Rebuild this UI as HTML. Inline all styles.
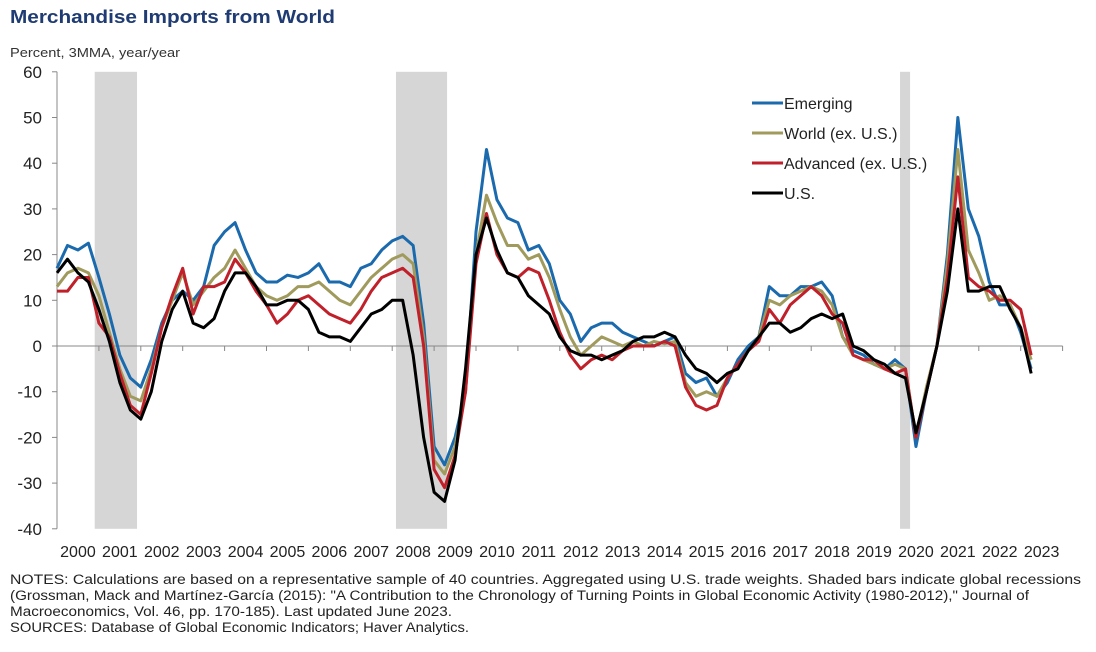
<!DOCTYPE html>
<html><head><meta charset="utf-8"><style>
body{margin:0;background:#fff;font-family:"Liberation Sans",Arial,sans-serif;}
svg text{font-family:"Liberation Sans",Arial,sans-serif;}
</style></head><body>
<svg id="chart" width="1096" height="647" xmlns="http://www.w3.org/2000/svg">
<text x="10" y="23" font-size="18" font-weight="bold" fill="#1f3b73" textLength="325" lengthAdjust="spacingAndGlyphs">Merchandise Imports from World</text>
<text x="10" y="57" font-size="13" fill="#333" textLength="170" lengthAdjust="spacingAndGlyphs">Percent, 3MMA,  year/year</text>
<g id="shade"></g><g id="axes"></g><g id="lines"></g>
<g>
<line x1="752" y1="103" x2="783" y2="103" stroke="#1a6aad" stroke-width="3"/><text x="784" y="109" font-size="16" fill="#222">Emerging</text>
<line x1="752" y1="133" x2="783" y2="133" stroke="#a09a5c" stroke-width="3"/><text x="784" y="139" font-size="16" fill="#222">World (ex. U.S.)</text>
<line x1="752" y1="163" x2="783" y2="163" stroke="#c0202a" stroke-width="3"/><text x="784" y="169" font-size="16" fill="#222">Advanced (ex. U.S.)</text>
<line x1="752" y1="193" x2="783" y2="193" stroke="#000" stroke-width="3"/><text x="784" y="199" font-size="16" fill="#222">U.S.</text>
</g>
<g font-size="13.5" fill="#222">
<text x="10" y="584" textLength="1071" lengthAdjust="spacingAndGlyphs">NOTES: Calculations are based on a representative sample of 40 countries.  Aggregated using U.S. trade weights.  Shaded bars indicate global recessions</text>
<text x="10" y="600" textLength="1019" lengthAdjust="spacingAndGlyphs">(Grossman, Mack and Martínez-García  (2015): "A Contribution to the Chronology of Turning Points in Global Economic Activity (1980-2012)," Journal of</text>
<text x="10" y="616" textLength="442" lengthAdjust="spacingAndGlyphs">Macroeconomics, Vol. 46, pp. 170-185). Last updated June 2023.</text>
<text x="10" y="632" textLength="459" lengthAdjust="spacingAndGlyphs">SOURCES: Database of Global Economic Indicators; Haver Analytics.</text>
</g>
</svg>
<script>
const years=[2000,2001,2002,2003,2004,2005,2006,2007,2008,2009,2010,2011,2012,2013,2014,2015,2016,2017,2018,2019,2020,2021,2022,2023];
const yTicks=[60,50,40,30,20,10,0,-10,-20,-30,-40];
const recessions=[[2000.9,2001.91],[2008.09,2009.31],[2020.12,2020.36]];
const t0=2000,tStep=0.25;
const emerging=[17,22,21,22.5,15,7,-2,-7,-9,-3,5,10,12,10,13,22,25,27,21,16,14,14,15.5,15,16,18,14,14,13,17,18,21,23,24,22,5,-22,-26,-20,-10,25,43,32,28,27,21,22,18,10,7,1,4,5,5,3,2,1,0,1,2,-6,-8,-7,-11,-8,-3,0,2,13,11,11,13,13,14,11,2,-1,-2,-4,-5,-3,-5,-22,-10,0,20,50,30,24,14,9,9,3,-5];
const world=[13,16,17,16,11,3,-5,-11,-12,-5,4,10,16,9,12,15,17,21,17,13,11,10,11,13,13,14,12,10,9,12,15,17,19,20,18,2,-25,-28,-22,-10,20,33,27,22,22,19,20,15,8,2,-2,0,2,1,0,1,0,1,0.5,1,-8,-11,-10,-11,-7,-4,-1,2,10,9,11,12,13,12,9,2,-2,-3,-4,-5,-4,-5,-20,-9,0,18,43,21,16,10,11,9,4,-3];
const advanced=[12,12,15,15,5,2,-6,-13,-15,-6,4,11,17,7,13,13,14,19,16,12,9,5,7,10,11,9,7,6,5,8,12,15,16,17,15,0,-27,-31,-24,-10,18,29,20,16,15,17,16,10,3,-2,-5,-3,-2,-3,-1,0,0,0,1,0,-9,-13,-14,-13,-7,-4,-1,1,8,5,9,11,13,11,7,5,-2,-3,-3,-5,-6,-5,-20,-10,0,15,37,15,13,12,10,10,8,-2];
const us=[16,19,16,14,8,1,-8,-14,-16,-10,1,8,12,5,4,6,12,16,16,13,9,9,10,10,8,3,2,2,1,4,7,8,10,10,-2,-20,-32,-34,-25,-5,20,28,21,16,15,11,9,7,2,-1,-2,-2,-3,-2,-1,1,2,2,3,2,-2,-5,-6,-8,-6,-5,-1,2,5,5,3,4,6,7,6,7,0,-1,-3,-4,-6,-7,-19,-10,0,12,30,12,12,13,13,8,4,-6];
const X0=57,YW=41.9,Y0=346,YS=4.57;
const xs=t=>X0+(t-2000)*YW, ys=v=>Y0-v*YS;
const NS="http://www.w3.org/2000/svg";
function mk(tag,attrs,parent){const e=document.createElementNS(NS,tag);for(const k in attrs)e.setAttribute(k,attrs[k]);parent.appendChild(e);return e;}
const shade=document.getElementById('shade'),axes=document.getElementById('axes'),lines=document.getElementById('lines');
recessions.forEach(r=>{const e=mk('rect',{x:xs(r[0]),y:ys(60),width:xs(r[1])-xs(r[0]),height:ys(-40)-ys(60),fill:'#d6d6d6'},shade);

});
const ya=mk('line',{x1:X0,y1:ys(60),x2:X0,y2:ys(-40),stroke:'#888'},axes);


yTicks.forEach(v=>{mk('line',{x1:X0-5,y1:ys(v),x2:X0,y2:ys(v),stroke:'#888'},axes);
const t=mk('text',{x:X0-15,y:ys(v)+6,'font-size':17,'text-anchor':'end',fill:'#222'},axes);t.textContent=v;

});
const xa=mk('line',{x1:X0,y1:ys(0),x2:xs(2024),y2:ys(0),stroke:'#888'},axes);


years.forEach(y=>{mk('line',{x1:xs(y),y1:ys(0),x2:xs(y),y2:ys(0)+5,stroke:'#888'},axes);
const t=mk('text',{x:xs(y+0.5),y:557,'font-size':16,'text-anchor':'middle',fill:'#222'},axes);t.textContent=y;

});
mk('line',{x1:xs(2024),y1:ys(0),x2:xs(2024),y2:ys(0)+5,stroke:'#888'},axes);
function draw(arr,color,name){const pts=arr.map((v,i)=>xs(t0+i*tStep)+','+ys(v)).join(' ');
const p=mk('polyline',{points:pts,fill:'none',stroke:color,'stroke-width':3,'stroke-linejoin':'round'},lines);

}
draw(emerging,'#1a6aad','emerging-line');
draw(world,'#a09a5c','world-line');
draw(advanced,'#c0202a','advanced-line');
draw(us,'#000','us-line');
</script>
</body></html>
